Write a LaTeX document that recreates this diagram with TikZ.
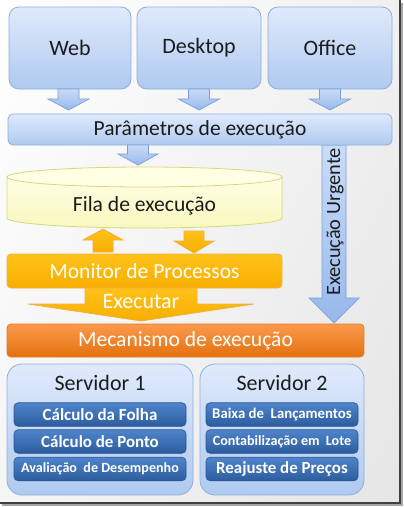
\documentclass[tikz,border=0pt]{standalone}
\usepackage{fontspec}
\setmainfont{Carlito}
\usetikzlibrary{calc,shadings}
\definecolor{bxtop}{HTML}{DFEAFC}
\definecolor{bxbot}{HTML}{AFC9F0}
\definecolor{bxline}{HTML}{8FAEDD}
\definecolor{artop}{HTML}{CADCF7}
\definecolor{arbot}{HTML}{97B8EC}
\definecolor{arline}{HTML}{7A9FD6}
\definecolor{cyltop}{HTML}{FFFFE4}
\definecolor{cylbot}{HTML}{F7F7BE}
\definecolor{cylline}{HTML}{D9D77E}
\definecolor{ortop}{HTML}{FFC21A}
\definecolor{orbot}{HTML}{F8AE00}
\definecolor{orline}{HTML}{F0B040}
\definecolor{mectop}{HTML}{FB9A4C}
\definecolor{mecbot}{HTML}{E4700E}
\definecolor{mecline}{HTML}{E47A25}
\definecolor{bartop}{HTML}{4F84CB}
\definecolor{barbot}{HTML}{2C5D9E}
\definecolor{barline}{HTML}{2A5593}
\definecolor{txt}{HTML}{1C1C1C}
\newcommand\blkdown[7]{%
  \path[#7] ({#1-#5},{#2}) -- ({#1+#5},{#2}) -- ({#1+#5},{#3}) -- ({#1+#6},{#3})
    -- ({#1},{#4}) -- ({#1-#6},{#3}) -- ({#1-#5},{#3}) -- cycle;}
\newcommand\blkup[7]{%
  \path[#7] ({#1-#5},{#2}) -- ({#1+#5},{#2}) -- ({#1+#5},{#3}) -- ({#1+#6},{#3})
    -- ({#1},{#4}) -- ({#1-#6},{#3}) -- ({#1-#5},{#3}) -- cycle;}
\tikzset{
  bluebox/.style={draw=bxline, line width=0.8pt, top color=bxtop, bottom color=bxbot,
    rounded corners=10pt, outer sep=0pt, inner sep=0pt, text=txt,
    font=\fontsize{22}{24}\selectfont},
  bluearrow/.style={draw=arline, line width=0.7pt, top color=artop, bottom color=arbot},
  orarrow/.style={draw=orline, line width=0.7pt, top color=ortop, bottom color=orbot},
  orbox/.style={draw=orline, line width=0.8pt, top color=ortop, bottom color=orbot,
    rounded corners=4pt, outer sep=0pt, inner sep=0pt, text=white,
    font=\fontsize{21.6}{24}\selectfont},
  mecbox/.style={draw=mecline, line width=0.8pt, top color=mectop, bottom color=mecbot,
    rounded corners=4pt, outer sep=0pt, inner sep=0pt, text=white,
    font=\fontsize{21.6}{24}\selectfont},
  srvbox/.style={draw=bxline, line width=0.8pt, top color=bxtop, bottom color=bxbot,
    rounded corners=15pt, outer sep=0pt, inner sep=0pt},
  barbox/.style={draw=barline, line width=0.6pt, top color=bartop, bottom color=barbot,
    rounded corners=4pt, outer sep=0pt, inner sep=0pt, text=white},
  plain/.style={text=txt, inner sep=0pt},
}
\begin{document}
\begin{tikzpicture}[x=1pt,y=-1pt]
\useasboundingbox (0,0) rectangle (404,507);
% background and frame shadow
\shade[upper left=white, upper right=black!6, lower left=black!4, lower right=black!10]
  (0,0) rectangle (400,503);
\draw[black!35, line width=2pt] (402,3) -- (402,505) -- (2,505);
\draw[black!75, line width=1.2pt] (400,0) -- (400,503) -- (0,503);

% source boxes
\node[bluebox, minimum width=122, minimum height=82] (web) at (70,48) {Web};
\node[bluebox, minimum width=124, minimum height=82] (desktop) at (199,48) {Desktop};
\node[bluebox, minimum width=124, minimum height=82] (office) at (330,48) {Office};

% arrows into parameters
\blkdown{68.5}{89}{99}{110}{10.5}{20.5}{bluearrow}
\blkdown{199}{89}{99}{110}{10.5}{20.5}{bluearrow}
\blkdown{330}{89}{99}{110}{10.5}{20.5}{bluearrow}

% urgent arrow
\blkdown{334}{145}{298}{323}{12}{25}{bluearrow}
\node[plain, rotate=90, font=\fontsize{20.3}{22}\selectfont] (urg) at (335,222) {Execução Urgente};

\node[bluebox, rounded corners=5pt, minimum width=384, minimum height=31,
  font=\fontsize{21.5}{24}\selectfont] (params) at (200,129.5) {Parâmetros de execução};

% arrow into queue
\blkdown{138}{145}{154}{165}{10.5}{20}{bluearrow}

% queue cylinder
\path[draw=cylline, line width=0.8pt, top color=cyltop, bottom color=cylbot]
  (7,177) -- (7,218) arc[start angle=180, end angle=0, x radius=137.5, y radius=10]
  -- (282,177) -- cycle;
\path[draw=cylline, line width=0.8pt, fill=cyltop] (144.5,177) ellipse[x radius=137.5, y radius=10];
\node[plain, font=\fontsize{21.6}{24}\selectfont] (fila) at (144.5,206) {Fila de execução};

% small orange arrows
\blkup{103}{252}{240}{229}{10}{20}{orarrow}
\blkdown{194}{231}{241}{253}{10}{20}{orarrow}

\node[orbox, minimum width=275, minimum height=34] (monitor) at (144.5,271) {Monitor de Processos};

% executar arrow
\blkdown{141}{288}{304}{321}{56}{113}{orarrow}
\node[inner sep=0pt, text=white, font=\fontsize{22}{24}\selectfont] (exec) at (141,302) {Executar};

\node[mecbox, minimum width=357, minimum height=33] (mec) at (185.5,340.5) {Mecanismo de execução};

% servers
\node[srvbox, minimum width=186, minimum height=131] (s1) at (100,429.5) {};
\node[srvbox, minimum width=164, minimum height=131] (s2) at (282,429.5) {};
\node[plain, font=\fontsize{22}{24}\selectfont] (s1t) at (100,383) {Servidor 1};
\node[plain, font=\fontsize{22}{24}\selectfont] (s2t) at (282,383) {Servidor 2};

\node[barbox, minimum width=172, minimum height=23.5, font=\bfseries\fontsize{17}{18}\selectfont] (b11) at (100,414.5) {Cálculo da Folha};
\node[barbox, minimum width=172, minimum height=23.5, font=\bfseries\fontsize{16.9}{18}\selectfont] (b12) at (100,441.5) {Cálculo de Ponto};
\node[barbox, minimum width=172, minimum height=23.5, font=\bfseries\fontsize{14.1}{16}\selectfont] (b13) at (100,469) {Avaliação\ \ de Desempenho};

\node[barbox, minimum width=152, minimum height=23.5, font=\bfseries\fontsize{14.8}{16}\selectfont] (b21) at (282,414.5) {Baixa de\ \ Lançamentos};
\node[barbox, minimum width=152, minimum height=23.5, font=\bfseries\fontsize{14.1}{16}\selectfont] (b22) at (282,441.5) {Contabilização em\ \ Lote};
\node[barbox, minimum width=152, minimum height=23.5, font=\bfseries\fontsize{16.9}{18}\selectfont] (b23) at (282,469) {Reajuste de Preços};
\end{tikzpicture}
\end{document}
